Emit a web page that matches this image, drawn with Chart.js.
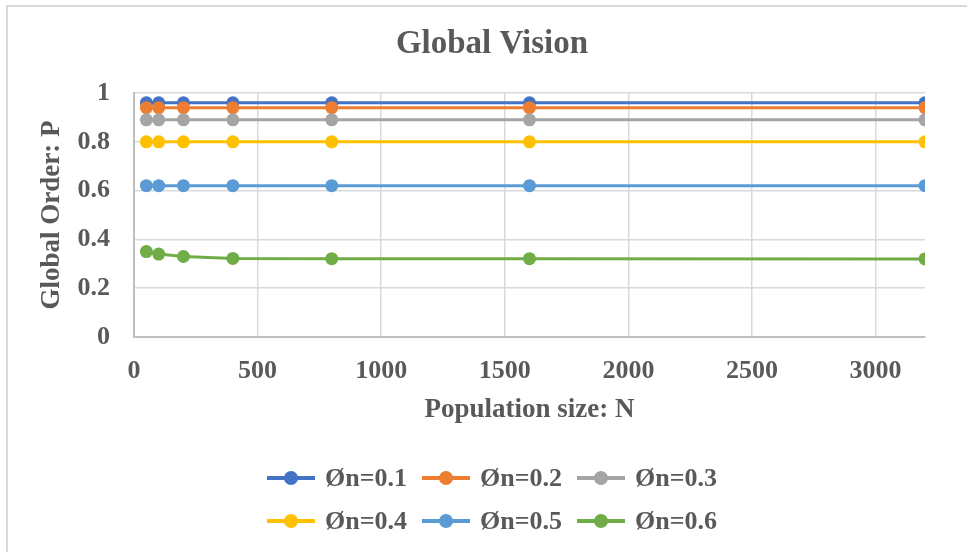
<!DOCTYPE html>
<html>
<head>
<meta charset="utf-8">
<script src="https://cdn.jsdelivr.net/npm/chart.js@4/dist/chart.umd.min.js"></script>
<style>
  html, body { margin: 0; padding: 0; background: #fff; overflow: hidden; }
  #frame {
    position: absolute; left: 6px; top: 5px; width: 980px; height: 560px;
    border-left: 2px solid #d9d9d9; border-top: 2px solid #d9d9d9;
  }
  #chart { position: absolute; left: 0; top: 0; }
  #legend {
    position: absolute; left: 267px; top: 456px; width: 470px;
    font: bold 26px "Liberation Serif", "Times New Roman", serif; color: #595959;
  }
  .row { display: flex; height: 43px; align-items: center; }
  .item { display: flex; align-items: center; width: 155px; }
  .mark { position: relative; width: 48px; height: 14px; margin-right: 10px; }
  .mark .ln { position: absolute; left: 0; right: 0; top: 5px; height: 4px; }
  .mark .dt { position: absolute; left: 17px; top: 0; width: 14px; height: 14px; border-radius: 50%; }
</style>
</head>
<body>
<div id="frame"></div>
<canvas id="chart" width="984" height="552"></canvas>
<div id="legend"></div>
<script>
const popSizes = [50, 100, 200, 400, 800, 1600, 3200];
const xTicks = [0, 500, 1000, 1500, 2000, 2500, 3000];
const yTicks = [0, 0.2, 0.4, 0.6, 0.8, 1];
const seriesNames = ["Øn=0.1", "Øn=0.2", "Øn=0.3", "Øn=0.4", "Øn=0.5", "Øn=0.6"];
const seriesColors = ["#4472C4", "#ED7D31", "#A5A5A5", "#FFC000", "#5B9BD5", "#70AD47"];
const phi01 = [0.96, 0.96, 0.96, 0.96, 0.96, 0.96, 0.96];
const phi02 = [0.94, 0.94, 0.94, 0.94, 0.94, 0.94, 0.94];
const phi03 = [0.89, 0.89, 0.89, 0.89, 0.89, 0.89, 0.89];
const phi04 = [0.80, 0.80, 0.80, 0.80, 0.80, 0.80, 0.80];
const phi05 = [0.62, 0.62, 0.62, 0.62, 0.62, 0.62, 0.62];
const phi06 = [0.35, 0.34, 0.33, 0.322, 0.321, 0.321, 0.32];
const seriesValues = [phi01, phi02, phi03, phi04, phi05, phi06];

const serif = "'Liberation Serif', 'Times New Roman', serif";
const textColor = "#595959";
const tickFont = { family: serif, size: 26, weight: "bold" };
const axisTitleFont = { family: serif, size: 27, weight: "bold" };

const datasets = seriesValues.map((values, i) => ({
  label: seriesNames[i],
  data: values.map((v, j) => ({ x: popSizes[j], y: v })),
  borderColor: seriesColors[i],
  backgroundColor: seriesColors[i],
  borderWidth: 3,
  pointRadius: 6.5,
  pointBorderWidth: 0,
  tension: 0,
  // later series sit on top
  order: seriesValues.length - i
}));

const fixedTicks = (list) => (scale) => {
  scale.ticks = list.map((value) => ({ value }));
};
const plainLabel = (value) => String(Math.round(value * 10) / 10);

new Chart(document.getElementById("chart"), {
  type: "line",
  data: { datasets },
  options: {
    responsive: false,
    animation: false,
    layout: { padding: { left: 0, right: 0, top: 0, bottom: 115 } },
    plugins: {
      legend: { display: false },
      tooltip: { enabled: false },
      title: {
        display: true,
        text: "Global Vision",
        color: textColor,
        font: { family: serif, size: 33, weight: "bold" },
        padding: { top: 25, bottom: 28.4 }
      }
    },
    scales: {
      x: {
        type: "linear",
        min: 0,
        max: 3200,
        afterBuildTicks: fixedTicks(xTicks),
        afterFit: (scale) => { scale.height = 100; },
        grid: { color: "#d9d9d9", lineWidth: 1.5, drawTicks: false },
        border: { color: "#bfbfbf", width: 2 },
        ticks: {
          padding: 19,
          maxRotation: 0,
          autoSkip: false,
          color: textColor,
          font: tickFont,
          callback: plainLabel
        },
        title: {
          display: true,
          text: "Population size: N",
          color: textColor,
          font: axisTitleFont,
          padding: { top: 0, bottom: 11 }
        }
      },
      y: {
        min: 0,
        max: 1,
        afterBuildTicks: fixedTicks(yTicks),
        afterFit: (scale) => { scale.width = 134; },
        grid: { color: "#d9d9d9", lineWidth: 1.5, drawTicks: false },
        border: { color: "#bfbfbf", width: 2 },
        ticks: {
          padding: 24,
          color: textColor,
          font: tickFont,
          callback: plainLabel
        },
        title: {
          display: true,
          text: "Global Order: P",
          color: textColor,
          font: axisTitleFont,
          padding: { top: 36, bottom: 0 }
        }
      },
      // empty strip on the right so the title centres over the full frame
      spacer: {
        type: "linear",
        position: "right",
        afterFit: (scale) => { scale.width = 59; },
        grid: { display: false },
        border: { display: false },
        ticks: { display: false }
      }
    }
  }
});

// legend: two rows of three, line-and-dot markers
const legendEl = document.getElementById("legend");
for (let r = 0; r < 2; r++) {
  const row = document.createElement("div");
  row.className = "row";
  for (let c = 0; c < 3; c++) {
    const i = r * 3 + c;
    const item = document.createElement("div");
    item.className = "item";
    item.innerHTML =
      `<span class="mark"><span class="ln" style="background:${seriesColors[i]}"></span>` +
      `<span class="dt" style="background:${seriesColors[i]}"></span></span>` +
      `<span>${seriesNames[i]}</span>`;
    row.appendChild(item);
  }
  legendEl.appendChild(row);
}
</script>
</body>
</html>
